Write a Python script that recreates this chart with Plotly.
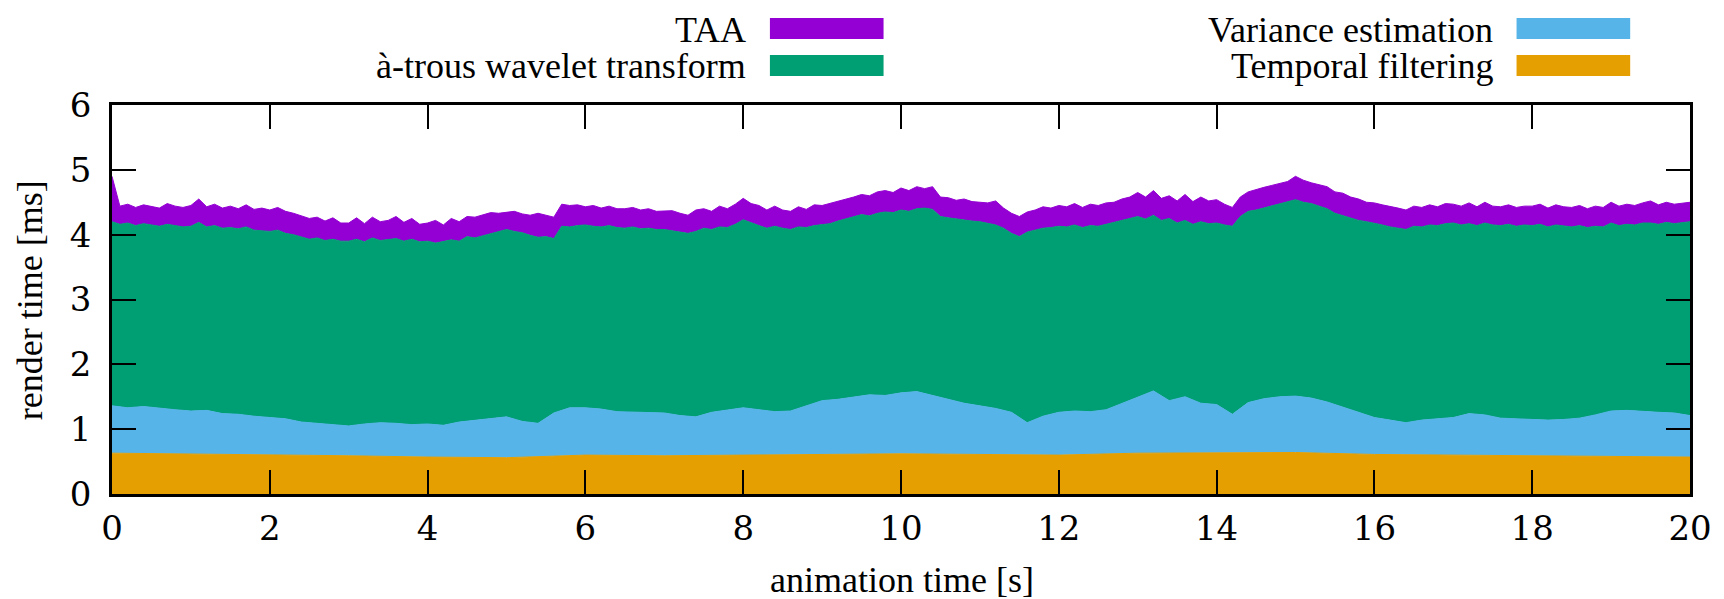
import plotly.graph_objects as go

# ---- data; stack tops in ms ----
# sampling grids (s)
t_fine = [round(i * 0.1, 1) for i in range(201)]
t_mid = [round(i * 0.2, 1) for i in range(101)]
t_coarse = [float(i) for i in range(21)]

# top of "Temporal filtering" band
temporal_top = [0.63, 0.62, 0.60, 0.59, 0.57, 0.56, 0.60, 0.59, 0.60, 0.61, 0.62,
                0.61, 0.60, 0.63, 0.64, 0.64, 0.61, 0.60, 0.59, 0.58, 0.57]

# top of "Variance estimation" band
variance_top = [1.36, 1.33, 1.35, 1.32, 1.30, 1.28, 1.29, 1.24, 1.23, 1.20,
                1.18, 1.16, 1.11, 1.09, 1.06, 1.05, 1.08, 1.10, 1.09, 1.07,
                1.08, 1.06, 1.11, 1.14, 1.17, 1.19, 1.12, 1.09, 1.25, 1.33,
                1.33, 1.31, 1.27, 1.26, 1.25, 1.25, 1.21, 1.19, 1.26, 1.29,
                1.33, 1.30, 1.27, 1.28, 1.36, 1.44, 1.46, 1.50, 1.53, 1.52,
                1.56, 1.58, 1.52, 1.45, 1.40, 1.36, 1.32, 1.26, 1.10, 1.20,
                1.26, 1.28, 1.27, 1.30, 1.40, 1.49, 1.59, 1.44, 1.50, 1.40,
                1.38, 1.23, 1.41, 1.47, 1.50, 1.51, 1.48, 1.42, 1.34, 1.25,
                1.18, 1.14, 1.10, 1.14, 1.16, 1.18, 1.24, 1.22, 1.17, 1.16,
                1.15, 1.14, 1.15, 1.17, 1.22, 1.28, 1.29, 1.27, 1.26, 1.25,
                1.21]

# top of "à-trous wavelet transform" band
atrous_top = [4.20, 4.16, 4.18, 4.14, 4.17, 4.15, 4.13, 4.16, 4.14, 4.12,
              4.13, 4.19, 4.12, 4.14, 4.10, 4.11, 4.09, 4.12, 4.07, 4.06,
              4.05, 4.07, 4.02, 4.00, 3.97, 3.93, 3.95, 3.91, 3.93, 3.90,
              3.90, 3.93, 3.89, 3.95, 3.91, 3.92, 3.94, 3.90, 3.93, 3.89,
              3.90, 3.87, 3.89, 3.92, 3.90, 3.97, 3.95, 3.98, 4.02, 4.04,
              4.08, 4.05, 4.03, 3.99, 3.96, 3.97, 3.94, 4.13, 4.12, 4.14,
              4.15, 4.13, 4.12, 4.14, 4.11, 4.10, 4.12, 4.09, 4.10, 4.08,
              4.08, 4.06, 4.04, 4.02, 4.05, 4.10, 4.08, 4.12, 4.11, 4.16,
              4.23, 4.18, 4.14, 4.10, 4.13, 4.10, 4.08, 4.12, 4.11, 4.14,
              4.15, 4.17, 4.21, 4.24, 4.27, 4.31, 4.29, 4.33, 4.35, 4.34,
              4.38, 4.36, 4.40, 4.41, 4.39, 4.28, 4.26, 4.24, 4.22, 4.21,
              4.20, 4.18, 4.15, 4.10, 4.02, 3.97, 4.04, 4.07, 4.10, 4.11,
              4.13, 4.12, 4.15, 4.11, 4.14, 4.13, 4.16, 4.18, 4.21, 4.25,
              4.28, 4.24, 4.30, 4.22, 4.25, 4.18, 4.22, 4.16, 4.20, 4.17,
              4.18, 4.15, 4.13, 4.28, 4.36, 4.38, 4.41, 4.44, 4.47, 4.50,
              4.54, 4.50, 4.48, 4.44, 4.40, 4.33, 4.29, 4.25, 4.22, 4.20,
              4.18, 4.15, 4.12, 4.10, 4.08, 4.13, 4.12, 4.15, 4.14, 4.17,
              4.18, 4.15, 4.17, 4.14, 4.18, 4.15, 4.14, 4.16, 4.13, 4.15,
              4.14, 4.16, 4.12, 4.15, 4.13, 4.12, 4.14, 4.11, 4.13, 4.12,
              4.18, 4.14, 4.16, 4.15, 4.18, 4.18, 4.16, 4.19, 4.17, 4.18,
              4.20]

# top of "TAA" band (total frame time)
taa_top = [4.90, 4.44, 4.47, 4.42, 4.46, 4.43, 4.41, 4.48, 4.44, 4.42,
           4.45, 4.55, 4.43, 4.47, 4.41, 4.44, 4.40, 4.46, 4.39, 4.41,
           4.38, 4.42, 4.36, 4.33, 4.29, 4.25, 4.27, 4.21, 4.26, 4.18,
           4.18, 4.26, 4.17, 4.27, 4.20, 4.22, 4.28, 4.19, 4.25, 4.16,
           4.18, 4.22, 4.15, 4.25, 4.20, 4.28, 4.27, 4.30, 4.34, 4.33,
           4.35, 4.36, 4.32, 4.30, 4.33, 4.30, 4.27, 4.47, 4.45, 4.46,
           4.43, 4.45, 4.41, 4.44, 4.40, 4.40, 4.42, 4.38, 4.40, 4.36,
           4.36, 4.37, 4.33, 4.30, 4.38, 4.40, 4.36, 4.44, 4.40, 4.47,
           4.56, 4.48, 4.45, 4.38, 4.44, 4.38, 4.36, 4.43, 4.39, 4.46,
           4.45, 4.48, 4.52, 4.55, 4.58, 4.62, 4.60, 4.66, 4.68, 4.65,
           4.72, 4.68, 4.74, 4.71, 4.74, 4.58, 4.57, 4.53, 4.55, 4.51,
           4.50, 4.49, 4.52, 4.41, 4.33, 4.28, 4.35, 4.38, 4.43, 4.41,
           4.45, 4.43, 4.48, 4.42, 4.47, 4.45, 4.49, 4.50, 4.55, 4.58,
           4.65, 4.58, 4.68, 4.56, 4.60, 4.52, 4.62, 4.51, 4.58, 4.52,
           4.54, 4.47, 4.42, 4.58, 4.66, 4.70, 4.73, 4.76, 4.79, 4.82,
           4.90, 4.84, 4.80, 4.77, 4.74, 4.66, 4.64, 4.58, 4.55, 4.50,
           4.49, 4.46, 4.44, 4.41, 4.38, 4.44, 4.42, 4.46, 4.43, 4.48,
           4.47, 4.44, 4.49, 4.43, 4.50, 4.44, 4.43, 4.46, 4.42, 4.44,
           4.44, 4.47, 4.41, 4.46, 4.43, 4.42, 4.45, 4.40, 4.44, 4.42,
           4.50, 4.44, 4.47, 4.45, 4.49, 4.52, 4.46, 4.50, 4.47, 4.48,
           4.50]

colors = {"TAA": "#9400D3", "à-trous wavelet transform": "#009E73",
          "Variance estimation": "#56B4E9", "Temporal filtering": "#E69F00"}

x_ticks = [0, 2, 4, 6, 8, 10, 12, 14, 16, 18, 20]
y_ticks = [0, 1, 2, 3, 4, 5, 6]

# ---- layout geometry (pixels; page body adds an 8 px offset) ----
W, H = 1716, 591
L, R, T, B = 104, 29, 97, 105
PW, PH = W - L - R, H - T - B


def px(x):
    return (x - L) / PW


def py(y):
    return (H - B - y) / PH


SERIF = "Liberation Serif, Times New Roman, serif"
TICKFONT = "DejaVu Serif, serif"

fig = go.Figure()
layers = [
    (t_coarse, temporal_top, "Temporal filtering", "tozeroy"),
    (t_mid, variance_top, "Variance estimation", "tonexty"),
    (t_fine, atrous_top, "à-trous wavelet transform", "tonexty"),
    (t_fine, taa_top, "TAA", "tonexty"),
]
for xs, ys, name, fill in layers:
    c = colors[name]
    fig.add_trace(go.Scatter(x=xs, y=ys, name=name, mode="lines",
                             line=dict(color=c, width=1), fill=fill,
                             fillcolor=c, showlegend=False, hoverinfo="skip"))

axis_common = dict(showline=True, linecolor="black", linewidth=2.5,
                   mirror="ticks", ticks="inside", ticklen=24, tickwidth=2,
                   tickcolor="black", showgrid=False, zeroline=False,
                   tickfont=dict(family=TICKFONT, size=34, color="black"))

fig.update_xaxes(range=[0, 20], tickvals=x_ticks, ticktext=[str(v) for v in x_ticks],
                 ticklabelstandoff=2, **axis_common)
fig.update_yaxes(range=[0, 6], tickvals=y_ticks, ticktext=[str(v) for v in y_ticks],
                 ticklabelstandoff=11, **axis_common)

annotations = [
    dict(text="animation time [s]", x=px(897), y=py(550), xref="paper", yref="paper",
         showarrow=False, xanchor="center", yanchor="top",
         font=dict(family=SERIF, size=36, color="black")),
    dict(text="render time [ms]", x=px(22), y=py(292), xref="paper", yref="paper",
         showarrow=False, xanchor="center", yanchor="middle", textangle=-90,
         font=dict(family=SERIF, size=36, color="black")),
]
shapes = []
legend_items = [
    ("TAA", 742, 764, 10, 31),
    ("à-trous wavelet transform", 742, 764, 47, 68),
    ("Variance estimation", 1491, 1513, 10, 31),
    ("Temporal filtering", 1491, 1513, 47, 68),
]
for name, text_right, sw_left, y0, y1 in legend_items:
    shapes.append(dict(type="rect", xref="paper", yref="paper",
                       x0=px(sw_left), x1=px(sw_left + 114), y0=py(y1), y1=py(y0),
                       fillcolor=colors[name], line=dict(width=0)))
    annotations.append(dict(text=name, x=px(text_right), y=py((y0 + y1) / 2 + 1),
                            xref="paper", yref="paper", showarrow=False,
                            xanchor="right", yanchor="middle",
                            font=dict(family=SERIF, size=36, color="black")))

fig.update_layout(width=W, height=H, margin=dict(l=L, r=R, t=T, b=B),
                  plot_bgcolor="white", paper_bgcolor="white",
                  showlegend=False, annotations=annotations, shapes=shapes)

fig.write_html("out.html")
